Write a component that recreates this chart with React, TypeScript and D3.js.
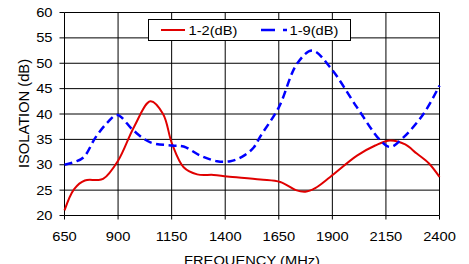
import React from "react";
import * as d3 from "d3";

const xTicks = [650, 900, 1150, 1400, 1650, 1900, 2150, 2400];
const yTicks = [20, 25, 30, 35, 40, 45, 50, 55, 60];

const redFreq = [650, 695, 745, 800, 830, 900, 975, 1051, 1110, 1152, 1206, 1269, 1346, 1409, 1564, 1657, 1730, 1774, 1820, 1890, 2015, 2100, 2170, 2240, 2294, 2350, 2400];
const redVal = [21.0, 25.2, 26.9, 27.0, 27.2, 30.8, 37.5, 42.5, 40.0, 34.1, 29.5, 28.1, 28.0, 27.7, 27.1, 26.6, 25.0, 24.7, 25.4, 27.6, 31.8, 33.8, 34.8, 34.0, 32.2, 30.3, 27.6];

const blueFreq = [650, 700, 740, 795, 850, 896, 973, 1051, 1152, 1206, 1284, 1362, 1424, 1480, 1533, 1564, 1650, 1735, 1806, 1890, 2015, 2124, 2170, 2232, 2325, 2400];
const blueVal = [30.0, 30.6, 31.5, 35.4, 38.3, 39.8, 36.7, 34.4, 33.8, 33.6, 31.8, 30.7, 30.7, 31.6, 33.4, 35.6, 41.3, 49.9, 52.5, 49.2, 41.3, 34.8, 33.5, 35.4, 40.0, 45.6];

const seriesNames = ["1-2(dB)", "1-9(dB)"];

const W = 469;
const H = 264;
const FS = 14.7;
const SY = 0.88;

function HText(props: { x: number; y: number; anchor?: string; children: React.ReactNode }) {
  return (
    <g transform={`translate(${props.x},${props.y}) scale(1,${SY})`}>
      <text x={0} y={0} fontSize={FS} textAnchor={props.anchor || "start"} fill="#000">
        {props.children}
      </text>
    </g>
  );
}

export default function App() {
  const x = d3.scaleLinear().domain([650, 2400]).range([64.5, 439.5]);
  const y = d3.scaleLinear().domain([20, 60]).range([215.5, 12.5]);

  const line = d3
    .line<[number, number]>()
    .x((d) => x(d[0]))
    .y((d) => y(d[1]))
    .curve(d3.curveCatmullRom.alpha(0.5));

  const redPts: [number, number][] = redFreq.map((f, i) => [f, redVal[i]]);
  const bluePts: [number, number][] = blueFreq.map((f, i) => [f, blueVal[i]]);

  const font = "'Liberation Sans', Arial, sans-serif";
  const x0 = x(650);
  const x1 = x(2400);
  const yTop = y(60);
  const yBot = y(20);

  return (
    <svg
      width={W}
      height={H}
      style={{ position: "absolute", left: 0, top: 0, background: "#fff" }}
      fontFamily={font}
    >
      <rect x={0} y={0} width={W} height={H} fill="#fff" />
      {/* grid */}
      {yTicks.map((t) => (
        <line key={"gy" + t} x1={x0} x2={x1} y1={y(t)} y2={y(t)} stroke="#000" strokeWidth={1} />
      ))}
      {xTicks.map((t) => (
        <line key={"gx" + t} x1={x(t)} x2={x(t)} y1={yTop} y2={yBot} stroke="#000" strokeWidth={1} />
      ))}
      {/* tick marks */}
      {yTicks.map((t) => (
        <line key={"ty" + t} x1={x0 - 5} x2={x0} y1={y(t)} y2={y(t)} stroke="#000" />
      ))}
      {xTicks.map((t) => (
        <line key={"tx" + t} x1={x(t)} x2={x(t)} y1={yBot} y2={yBot + 4} stroke="#000" />
      ))}
      {/* tick labels */}
      {yTicks.map((t) => (
        <HText key={"ly" + t} x={52.5} y={y(t) + 4.6} anchor="end">
          {t}
        </HText>
      ))}
      {xTicks.map((t) => (
        <HText key={"lx" + t} x={x(t)} y={241.3} anchor="middle">
          {t}
        </HText>
      ))}
      {/* axis titles */}
      <text
        transform={`translate(29,${(yTop + yBot) / 2 - 0.5}) rotate(-90)`}
        fontSize={FS}
        textAnchor="middle"
        fill="#000"
      >
        ISOLATION (dB)
      </text>
      <HText x={(x0 + x1) / 2} y={264.5} anchor="middle">
        FREQUENCY (MHz)
      </HText>
      {/* series */}
      <path d={line(redPts) || ""} fill="none" stroke="#e00000" strokeWidth={2} />
      <path
        d={line(bluePts) || ""}
        fill="none"
        stroke="#0000ff"
        strokeWidth={2.5}
        strokeDasharray="8,4.5"
      />
      {/* legend */}
      <rect x={148.5} y={19.5} width={202} height={21} fill="#fff" stroke="#000" strokeWidth={1} />
      <line x1={161} x2={185} y1={30} y2={30} stroke="#e00000" strokeWidth={2} />
      <HText x={188.5} y={35.3}>
        {seriesNames[0]}
      </HText>
      <line x1={261} x2={287} y1={30} y2={30} stroke="#0000ff" strokeWidth={2.5} strokeDasharray="14,8" />
      <HText x={289.5} y={35.3}>
        {seriesNames[1]}
      </HText>
    </svg>
  );
}
